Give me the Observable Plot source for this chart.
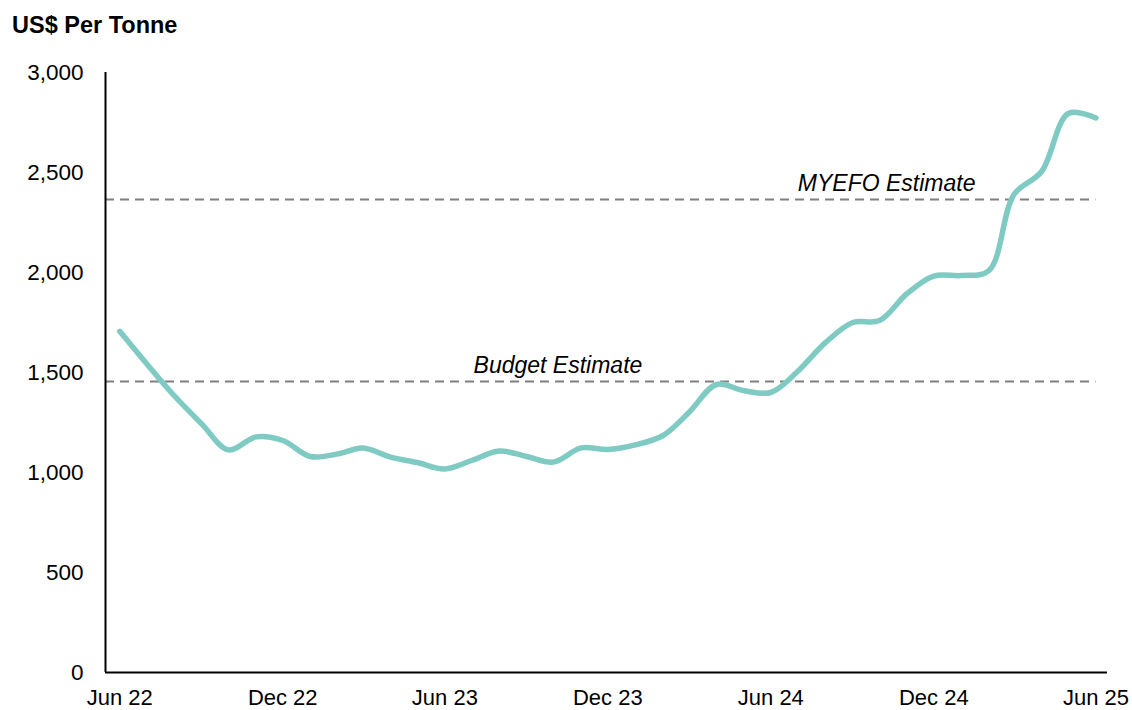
<!DOCTYPE html>
<html><head><meta charset="utf-8">
<script src="https://cdn.jsdelivr.net/npm/d3@7"></script>
<script src="https://cdn.jsdelivr.net/npm/@observablehq/plot@0.6"></script>
<style>
body{margin:0;background:#fff;font-family:"Liberation Sans",Arial,sans-serif;overflow:hidden;}
#title{height:40px;box-sizing:border-box;padding:12px 0 0 12px;font-size:23.5px;font-weight:bold;line-height:26px;color:#000;white-space:nowrap;}
</style></head><body>
<div id="title">US$ Per Tonne</div>
<div id="chart"></div>
<script>
const months = ["2022-06","2022-07","2022-08","2022-09","2022-10","2022-11","2022-12",
  "2023-01","2023-02","2023-03","2023-04","2023-05","2023-06","2023-07","2023-08","2023-09","2023-10","2023-11","2023-12",
  "2024-01","2024-02","2024-03","2024-04","2024-05","2024-06","2024-07","2024-08","2024-09","2024-10","2024-11","2024-12",
  "2025-01","2025-02","2025-03","2025-04","2025-05","2025-06"];
const prices = [1706,1545,1385,1243,1113,1178,1160,
  1080,1093,1122,1077,1050,1018,1060,1107,1080,1052,1123,1115,
  1138,1185,1300,1440,1410,1400,1505,1648,1750,1760,1895,1982,
  1985,2010,2390,2505,2795,2773];
const estimateNames = ["Budget Estimate","MYEFO Estimate"];
const estimateValues = [1455, 2365];
const estimateLabelDates = ["2023-10-06","2024-10-09"];
const xTickDates = ["2022-06-01","2022-12-01","2023-06-01","2023-12-01","2024-06-01","2024-12-01","2025-06-01"];
const yTicks = [0,500,1000,1500,2000,2500,3000];

const parse = s => new Date(s.length === 7 ? s + "-01T00:00:00Z" : s + "T00:00:00Z");
const data = months.map((m, i) => ({date: parse(m), price: prices[i]}));
const estimates = estimateNames.map((n, i) => ({name: n, value: estimateValues[i], date: parse(estimateLabelDates[i])}));
const xStart = parse("2022-05-16"), xEnd = parse("2025-06-14");
const lastDate = data[data.length - 1].date;
const font = "'Liberation Sans', Arial, sans-serif";

const chart = Plot.plot({
  width: 1132,
  height: 670,
  marginLeft: 105,
  marginRight: 25,
  marginTop: 32,
  marginBottom: 38,
  style: {fontFamily: font, fontSize: "22px", color: "#000", background: "#fff"},
  x: {type: "utc", domain: [xStart, xEnd]},
  y: {domain: [0, 3000]},
  marks: [
    Plot.axisY(yTicks, {tickSize: 0, tickPadding: 22, tickFormat: d3.format(","), fontSize: 22.5, label: null}),
    Plot.axisX(xTickDates.map(parse), {tickSize: 0, tickPadding: 17, tickFormat: d3.utcFormat("%b %y"), fontSize: 22, label: null}),
    Plot.ruleY(estimates, {y: "value", x1: xStart, x2: lastDate, stroke: "#7f7f7f", strokeWidth: 2, strokeDasharray: "9,6"}),
    Plot.text(estimates, {x: "date", y: "value", text: "name", fontStyle: "italic", fontSize: 23, textAnchor: "middle", lineAnchor: "bottom", dy: -9, fill: "#000"}),
    Plot.lineY(data, {x: "date", y: "price", stroke: "#7fcbc4", strokeWidth: 5.5, curve: "catmull-rom", strokeLinecap: "round"}),
    Plot.ruleX([xStart], {stroke: "#000", strokeWidth: 2}),
    Plot.ruleY([0], {stroke: "#000", strokeWidth: 2})
  ]
});
document.getElementById("chart").appendChild(chart);
</script>
</body></html>
